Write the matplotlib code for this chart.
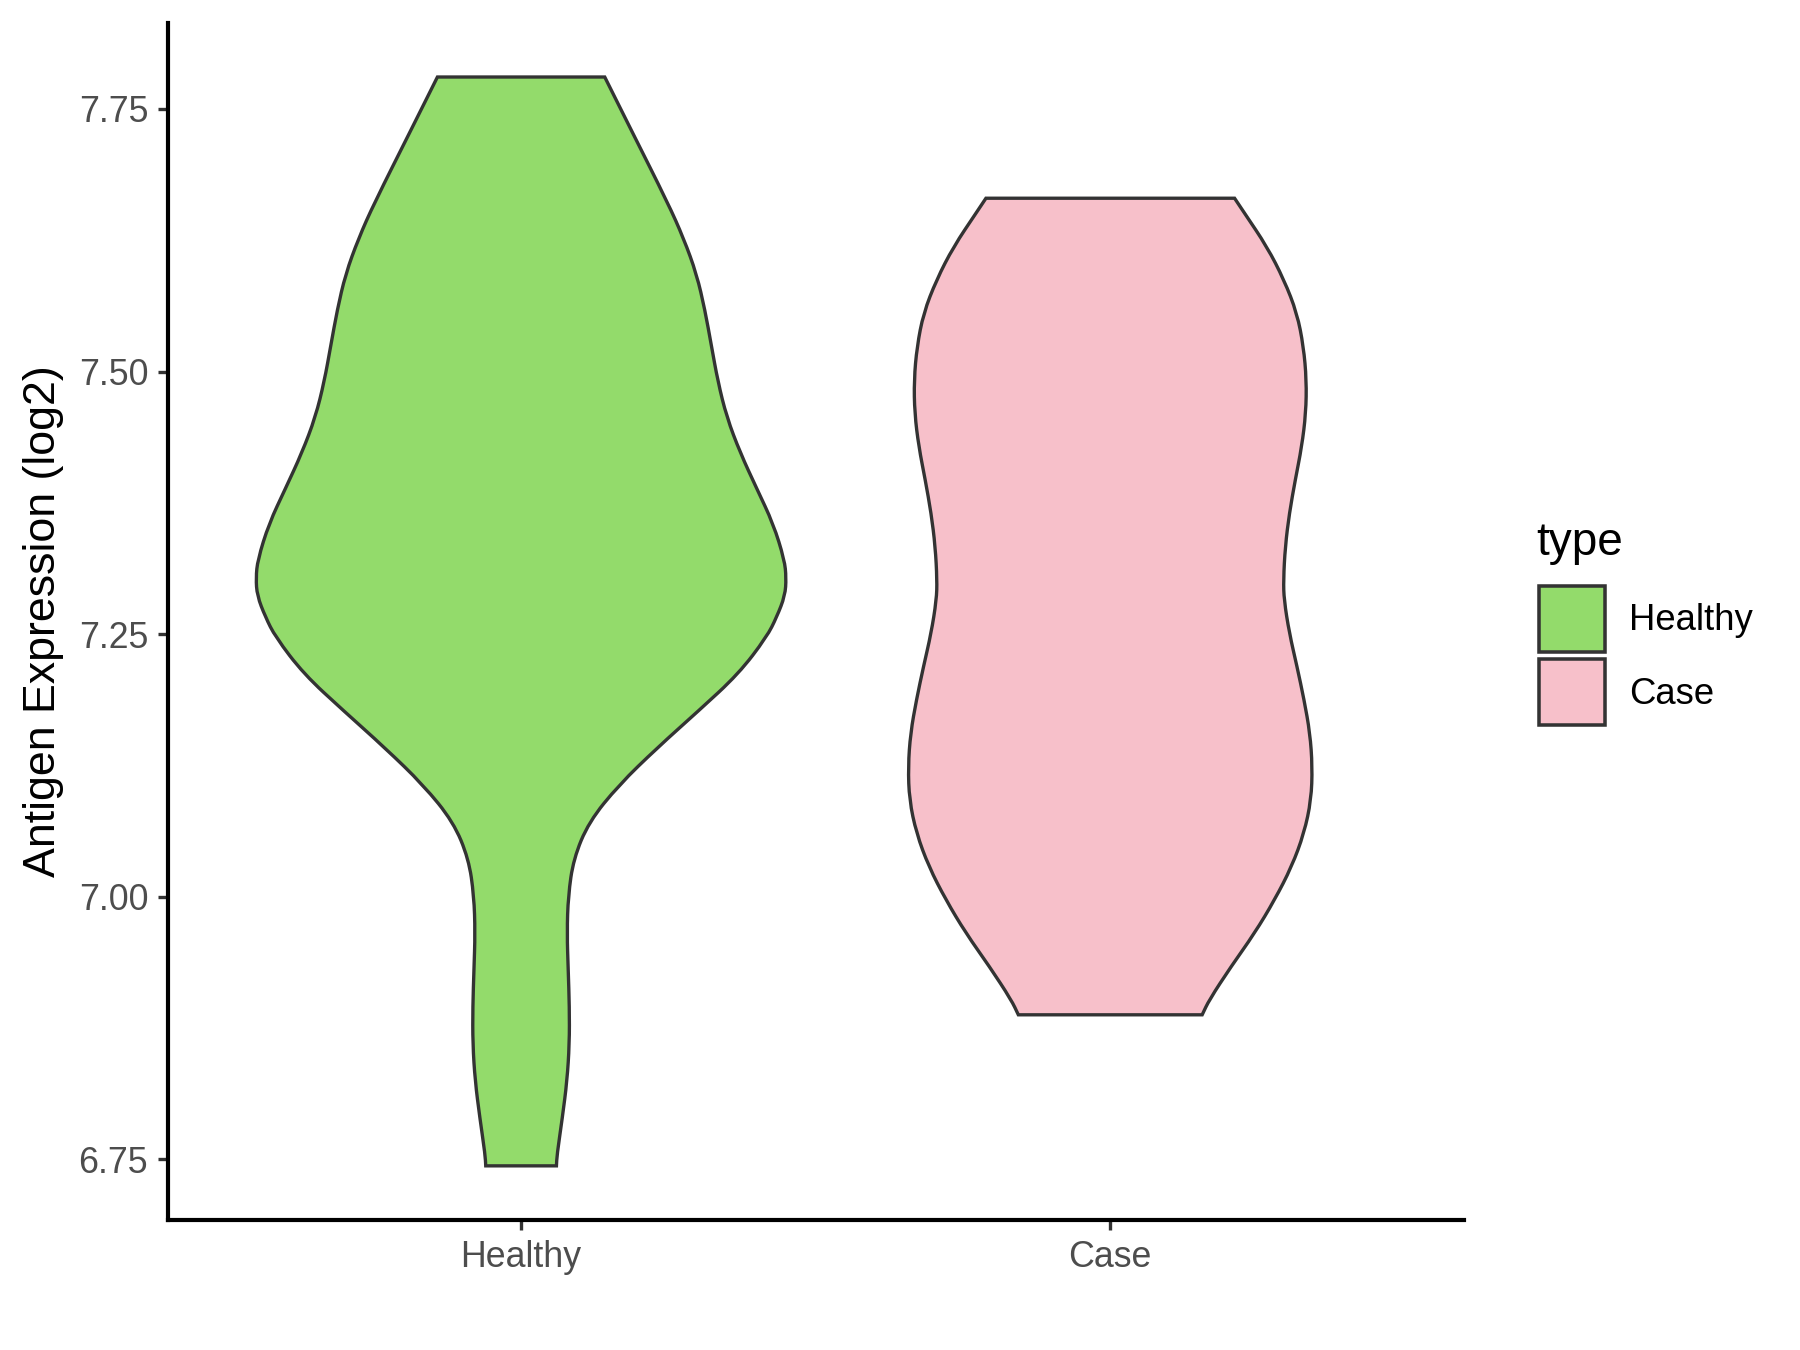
import matplotlib.pyplot as plt
import numpy as np
from matplotlib.patches import Patch, PathPatch
from matplotlib.path import Path

plt.rcParams['font.family'] = ['Liberation Sans', 'DejaVu Sans']

groups = ["Healthy", "Case"]
fills = ["#93DB6B", "#F7C0CA"]

# violin outlines: expression level and half width
healthy_y = [7.7804, 7.7287, 7.6606, 7.6266, 7.5926, 7.5587, 7.5247, 7.4907,
             7.4567, 7.4226, 7.3886, 7.3551, 7.3207, 7.3036, 7.2867, 7.2664,
             7.2474, 7.2121, 7.1769, 7.1417, 7.1064, 7.0712, 7.0360, 7.0008,
             6.9656, 6.9304, 6.8952, 6.8599, 6.8247, 6.7895, 6.7543, 6.7438]
healthy_w = [0.142, 0.188, 0.249, 0.276, 0.298, 0.312, 0.323, 0.334,
             0.349, 0.372, 0.400, 0.428, 0.447, 0.450, 0.448, 0.434,
             0.417, 0.369, 0.301, 0.231, 0.166, 0.115, 0.089, 0.080,
             0.078, 0.080, 0.082, 0.082, 0.078, 0.070, 0.061, 0.060]

case_y = [7.6650, 7.6507, 7.6189, 7.5872, 7.5555, 7.5237, 7.4920, 7.4603,
          7.4285, 7.3968, 7.3651, 7.3333, 7.3016, 7.2826, 7.2509, 7.2191,
          7.1874, 7.1557, 7.1239, 7.0922, 7.0605, 7.0287, 6.9970, 6.9653,
          6.9335, 6.9018, 6.8876]
case_w = [0.211, 0.228, 0.266, 0.295, 0.317, 0.328, 0.333, 0.332,
          0.325, 0.314, 0.304, 0.297, 0.294, 0.295, 0.304, 0.317,
          0.329, 0.339, 0.343, 0.341, 0.329, 0.308, 0.279, 0.245,
          0.205, 0.168, 0.156]

yticks = [6.75, 7.00, 7.25, 7.50, 7.75]


def side_path(xs, ys, first_code):
    # smooth one side of the violin: read points become quadratic control points
    pts = list(zip(xs, ys))
    mids = [((pts[i][0] + pts[i + 1][0]) / 2, (pts[i][1] + pts[i + 1][1]) / 2)
            for i in range(len(pts) - 1)]
    verts = [pts[0], mids[0]]
    codes = [first_code, Path.LINETO]
    for i in range(1, len(pts) - 1):
        verts += [pts[i], mids[i]]
        codes += [Path.CURVE3, Path.CURVE3]
    verts.append(pts[-1])
    codes.append(Path.LINETO)
    return verts, codes


fig = plt.figure(figsize=(12, 9), dpi=150)
ax = fig.add_axes([0.0931, 0.0961, 0.7201, 0.887])

profiles = [(healthy_y, healthy_w), (case_y, case_w)]
for i, (ys, ws) in enumerate(profiles):
    pos = i + 1
    ys = np.array(ys)
    ws = np.array(ws)
    v1, c1 = side_path(pos + ws, ys, Path.MOVETO)
    v2, c2 = side_path((pos - ws)[::-1], ys[::-1], Path.LINETO)
    verts = v1 + v2 + [v1[0]]
    codes = c1 + c2 + [Path.CLOSEPOLY]
    ax.add_patch(PathPatch(Path(verts, codes), facecolor=fills[i], edgecolor="#333333",
                           linewidth=1.6, joinstyle="miter", zorder=2))

ax.set_xlim(0.4, 2.6)
ax.set_ylim(6.692, 7.832)
ax.set_xticks([1, 2])
ax.set_xticklabels(groups)
ax.set_yticks(yticks)
ax.set_yticklabels(["%.2f" % t for t in yticks])
ax.set_ylabel("Antigen Expression (log2)", fontsize=21.5, color="black", labelpad=7)

ax.spines['right'].set_color('none')
ax.spines['top'].set_color('none')
ax.spines['left'].set_linewidth(2.0)
ax.spines['bottom'].set_linewidth(2.0)
ax.tick_params(axis='both', length=4.8, width=1.6, color="#333333",
               labelcolor="#4D4D4D", labelsize=17.2, pad=4.5)

# legend: title as its own text so the gap to the keys matches
fig.text(0.8533, 0.5889, "type", fontsize=22, va="baseline", ha="left")
handles = [Patch(facecolor=fills[i], edgecolor="#333333", linewidth=1.7, label=groups[i])
           for i in range(2)]
leg = fig.legend(handles=handles, loc="upper left",
                 bbox_to_anchor=(0.837, 0.590), frameon=False, fontsize=17.5,
                 handlelength=1.8, handleheight=2.4,
                 labelspacing=0.2, handletextpad=0.66)

fig.savefig("out.png", dpi=150)
